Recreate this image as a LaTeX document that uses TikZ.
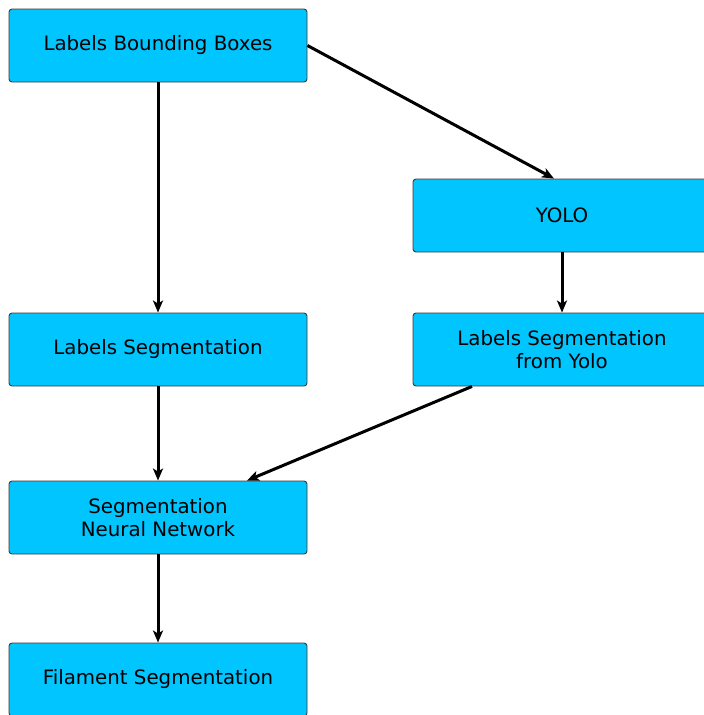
\documentclass[tikz,border=0pt]{standalone}
\usepackage{fontspec}
\setmainfont{DejaVu Sans}
\usetikzlibrary{arrows.meta}
\definecolor{boxfill}{RGB}{0,197,255}
\definecolor{boxline}{RGB}{60,60,60}
\begin{document}
\begin{tikzpicture}[x=1pt,y=-1pt,
  flowbox/.style={draw=boxline,line width=0.9pt,fill=boxfill,rounded corners=3pt,
    minimum width=298pt,minimum height=73pt,inner sep=0pt,align=center,
    font=\fontsize{19.8}{22.8}\selectfont},
  flowarrow/.style={line width=3pt,-{Stealth[length=12pt,width=10pt,inset=3pt]}}]
\useasboundingbox (0,0) rectangle (704,715);
\begin{scope}
\clip (0,0) rectangle (704,715);
\node[flowbox] (lbb) at (158,45.5) {\raisebox{-1.5pt}{Labels Bounding Boxes}};
\node[flowbox] (yolo) at (562,215.5) {\raisebox{-1.5pt}{YOLO}};
\node[flowbox] (ls) at (158,349.5) {\raisebox{-1.5pt}{Labels Segmentation}};
\node[flowbox] (lsy) at (562,349.5) {Labels Segmentation\\from Yolo};
\node[flowbox] (snn) at (158,517.5) {Segmentation\\Neural Network};
\node[flowbox] (fs) at (158,679.5) {\raisebox{-1.5pt}{Filament Segmentation}};
\draw[flowarrow] (lbb.east) -- ([xshift=-8pt]yolo.north);
\draw[flowarrow] (lbb.south) -- (ls.north);
\draw[flowarrow] (yolo.south) -- (lsy.north);
\draw[flowarrow] (ls.south) -- (snn.north);
\draw[flowarrow] ([xshift=-90pt]lsy.south) -- ([xshift=89pt]snn.north);
\draw[flowarrow] (snn.south) -- (fs.north);
\end{scope}
\end{tikzpicture}
\end{document}
